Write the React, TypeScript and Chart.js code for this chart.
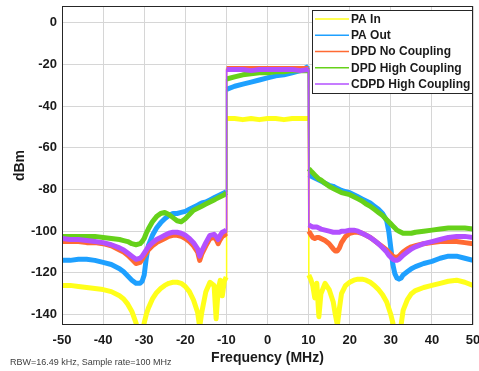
import { useEffect, useRef } from 'react';
import { Chart, registerables } from 'chart.js';

Chart.register(...registerables);

// Frequency grid (MHz)
const freq = [
  -50, -48, -46, -44, -42, -40, -38, -36, -35, -34, -33, -32, -31, -30.5, -30, -29.5, -29, -28, -27, -26,
  -25, -24, -23, -22, -21, -20, -19, -18, -17, -16.5, -16, -15, -14, -13, -12.5, -12, -11.5, -11, -10.5, -10.05,
  -9.95, -8, -6, -4, -2, 0, 2, 4, 6, 8, 9.95,
  10.05, 10.5, 11, 11.5, 12, 12.5, 13, 14, 15, 16, 16.5, 17, 17.5, 18, 19, 20, 21, 22, 23, 24,
  25, 26, 27, 28, 29, 29.5, 30, 30.5, 31, 31.5, 32, 32.5, 33, 34, 35, 36, 38, 40, 42, 44, 46, 48, 50,
];

const paIn = [
  -126, -126, -126.5, -127, -127.5, -128, -129, -131, -132.5, -135, -138.5, -144, -152, -150, -144, -140, -137, -132.5, -129.5, -127.5,
  -126, -125, -124.5, -124.5, -125, -126.5, -129, -133, -139, -146, -139, -129, -124.5, -126, -142, -128, -123.5, -131, -124, -122,
  -46, -46, -46.5, -46, -46.5, -46, -46, -46.5, -46, -46, -46,
  -121, -123, -126, -132, -125, -141, -130, -125, -128, -134, -140, -145, -137, -130, -126, -124.5, -123.5, -123, -123, -123.5,
  -124.5, -126, -128, -130.5, -134, -137, -140, -144, -149, -152, -150, -145, -138, -133, -130, -128.5, -127, -126, -125, -124, -123.5, -124.5, -126,
];

const paOut = [
  -114, -114, -113.5, -113.5, -114, -115, -116, -118, -119.5, -121.5, -123.5, -125, -125, -124, -121, -113, -107, -102, -98.5, -96,
  -94, -92.5, -91.5, -91.5, -91, -90.5, -89.5, -88.5, -87.5, -87, -86.5, -86, -85, -84, -83.5, -83, -82.5, -82, -81.5, -81,
  -32, -30.5, -29.5, -28.5, -27.5, -26.5, -25.5, -25, -24, -23, -21,
  -73, -73.5, -74, -74.5, -75, -75.5, -76, -77, -78, -78.5, -79, -79.5, -80, -80.5, -81, -81.5, -82.5, -83.5, -84.5, -85.5,
  -86.5, -88, -89.5, -91.5, -95, -100, -108, -116, -120.5, -122.5, -123, -122.5, -121, -119.5, -118, -117, -115.5, -114.5, -113, -112, -112, -113, -114,
];

const dpdNoCoupling = [
  -105, -105, -105, -105.5, -105.5, -106, -107, -109, -110, -111.5, -113.5, -115.5, -115, -113.5, -112, -110.5, -109, -107, -105.5, -104.5,
  -103.5, -102.5, -102, -102, -102.5, -103.5, -105, -107, -110, -114, -111, -107, -103.5, -103, -104, -106, -104, -102.5, -102, -101,
  -22, -22, -22, -22, -22, -22, -22, -22, -22, -22, -22,
  -100, -101.5, -103, -103.5, -103, -103, -103.5, -104.5, -106, -108.5, -109.5, -109.5, -108, -105.5, -102.5, -101, -100.5, -100.5, -101, -102,
  -103, -104.5, -106, -107.5, -109, -110, -111, -112, -112.5, -112.5, -112, -111, -110, -108.5, -107.5, -107, -106, -105.5, -105, -105, -105, -105.5, -106,
];

const dpdHighCoupling = [
  -102.5, -102.5, -102.5, -102.5, -102.5, -103, -103.5, -104, -104.5, -105, -106, -106.5, -106, -105, -103.5, -101, -99, -95.5, -93, -91.5,
  -91, -92, -93.5, -95, -95.5, -94, -92, -90, -89, -88.5, -88, -87, -86, -85, -84.5, -84, -83.5, -83, -82.5, -81.5,
  -27, -26, -25, -24.5, -24, -24, -23.5, -23.5, -23, -23, -23,
  -70, -71, -72, -73, -74, -75, -75.5, -77, -78.5, -79.5, -80, -80.5, -81, -81.5, -82, -82.5, -83.5, -84.5, -85.5, -87,
  -88, -89.5, -91, -92.5, -94.5, -95.5, -96.5, -97.5, -98.5, -99.5, -100, -100.5, -101, -101, -101, -100.5, -100, -99.5, -99, -98.5, -98.5, -98.5, -99,
];

const cdpdHighCoupling = [
  -103.5, -104, -104, -104.5, -105, -105.5, -106.5, -108, -109, -110.5, -112, -113.5, -113, -112, -110.5, -109, -107.5, -105.5, -104, -103,
  -102, -101, -100.5, -100.5, -101, -102, -103.5, -105.5, -108.5, -112, -109.5, -105.5, -102, -101.5, -102.5, -104, -102, -100.5, -100, -99.5,
  -22.5, -22.5, -22.5, -23, -22.5, -22.5, -22.5, -22.5, -22.5, -23, -22.5,
  -97, -97.5, -98, -98, -98, -98.5, -99, -99.5, -100, -100.5, -100.5, -100.5, -100.5, -100, -100, -99.5, -99.5, -100, -101, -102,
  -103, -104.5, -106, -108, -110, -111.5, -112.5, -113.5, -114, -114, -113.5, -112.5, -111.5, -110, -108.5, -107.5, -106, -105, -104, -103, -102.5, -102.5, -103,
];

const seriesNames = ['PA In', 'PA Out', 'DPD No Coupling', 'DPD High Coupling', 'CDPD High Coupling'];
const seriesColors = ['#FFFF1A', '#1EA0FF', '#FF6A33', '#66D11A', '#B350FF'];

const xTicks = [-50, -40, -30, -20, -10, 0, 10, 20, 30, 40, 50];
const yTicks = [0, -20, -40, -60, -80, -100, -120, -140];
const xRange = [-50, 50];
const yRange = [-145, 8];

const xTitle = 'Frequency (MHz)';
const yTitle = 'dBm';
const note = 'RBW=16.49 kHz, Sample rate=100 MHz';

const W = 479;
const H = 371;
const FONT = "'Liberation Sans', Arial, sans-serif";
const LW = 5;

export default function App() {
  const ref = useRef<HTMLCanvasElement>(null);

  useEffect(() => {
    const canvas = ref.current;
    if (!canvas) return;
    const series = [paIn, paOut, dpdNoCoupling, dpdHighCoupling, cdpdHighCoupling];

    const decor = {
      id: 'decor',
      afterDraw(chart: any) {
        const ctx = chart.ctx as CanvasRenderingContext2D;
        const a = chart.chartArea;
        ctx.save();
        // axes box
        ctx.strokeStyle = '#262626';
        ctx.lineWidth = 1;
        ctx.strokeRect(Math.round(a.left) + 0.5, Math.round(a.top) + 0.5, Math.round(a.right - a.left) - 1, Math.round(a.bottom - a.top) - 1);

        // titles
        ctx.fillStyle = '#1a1a1a';
        ctx.font = `bold 14px ${FONT}`;
        ctx.textAlign = 'center';
        ctx.textBaseline = 'middle';
        ctx.fillText(xTitle, (a.left + a.right) / 2, 358);
        ctx.save();
        ctx.translate(20, (a.top + a.bottom) / 2);
        ctx.rotate(-Math.PI / 2);
        ctx.fillText(yTitle, 0, 0);
        ctx.restore();

        // note
        ctx.font = `9px ${FONT}`;
        ctx.fillStyle = '#404040';
        ctx.textAlign = 'left';
        ctx.fillText(note, 10, 363);

        // legend
        const lx = 312.5, ly = 10.5, lw = 160, lh = 83;
        ctx.fillStyle = '#ffffff';
        ctx.fillRect(lx, ly, lw, lh);
        ctx.strokeStyle = '#262626';
        ctx.lineWidth = 1;
        ctx.strokeRect(lx, ly, lw, lh);
        ctx.font = `bold 12px ${FONT}`;
        ctx.textAlign = 'left';
        ctx.textBaseline = 'middle';
        seriesNames.forEach((name, i) => {
          const y = 19 + i * 16.25;
          ctx.strokeStyle = seriesColors[i];
          ctx.lineWidth = 1.5;
          ctx.beginPath();
          ctx.moveTo(315, y);
          ctx.lineTo(349, y);
          ctx.stroke();
          ctx.fillStyle = '#1a1a1a';
          ctx.fillText(name, 351, y + 0.5);
        });
        ctx.restore();
      },
    };

    const chart = new Chart(canvas, {
      type: 'line',
      data: {
        datasets: series.map((vals, i) => ({
          label: seriesNames[i],
          data: vals.map((v, j) => ({ x: freq[j], y: v })),
          borderColor: seriesColors[i],
          backgroundColor: seriesColors[i],
          borderWidth: LW,
          pointRadius: 0,
          tension: 0,
          fill: false,
          clip: 0,
          order: 4 - i,
          borderJoinStyle: 'round',
          segment: {
            borderWidth: (c: any) => (Math.abs(c.p1.parsed.x - c.p0.parsed.x) < 0.2 ? 1.5 : LW),
          },
        })),
      },
      options: {
        animation: false,
        responsive: false,
        devicePixelRatio: 1,
        parsing: true,
        layout: { padding: { top: 6, right: 6, left: 0, bottom: 0 } },
        plugins: {
          legend: { display: false },
          tooltip: { enabled: false },
          title: { display: false },
        },
        scales: {
          x: {
            type: 'linear',
            min: xRange[0],
            max: xRange[1],
            afterBuildTicks: (s: any) => {
              s.ticks = xTicks.map((v) => ({ value: v }));
            },
            afterFit: (s: any) => {
              s.height = 46;
              s.paddingLeft = 0;
              s.paddingRight = 0;
            },
            grid: { color: '#d6d6d6', lineWidth: 1, drawTicks: false },
            border: { display: false },
            ticks: {
              color: '#1a1a1a',
              padding: 8,
              maxRotation: 0,
              autoSkip: false,
              font: { family: FONT, size: 13, weight: 'bold' },
            },
          },
          y: {
            type: 'linear',
            min: yRange[0],
            max: yRange[1],
            afterBuildTicks: (s: any) => {
              s.ticks = yTicks.map((v) => ({ value: v }));
            },
            afterFit: (s: any) => {
              s.width = 62;
              s.paddingTop = 0;
              s.paddingBottom = 0;
            },
            grid: { color: '#d6d6d6', lineWidth: 1, drawTicks: false },
            border: { display: false },
            ticks: {
              color: '#1a1a1a',
              padding: 5,
              autoSkip: false,
              font: { family: FONT, size: 13, weight: 'bold' },
            },
          },
        },
      },
      plugins: [decor],
    } as any);

    return () => chart.destroy();
  }, []);

  return (
    <div style={{ position: 'absolute', left: 0, top: 0, width: W, height: H, background: '#ffffff' }}>
      <canvas ref={ref} width={W} height={H} style={{ display: 'block', width: W, height: H }} />
    </div>
  );
}
